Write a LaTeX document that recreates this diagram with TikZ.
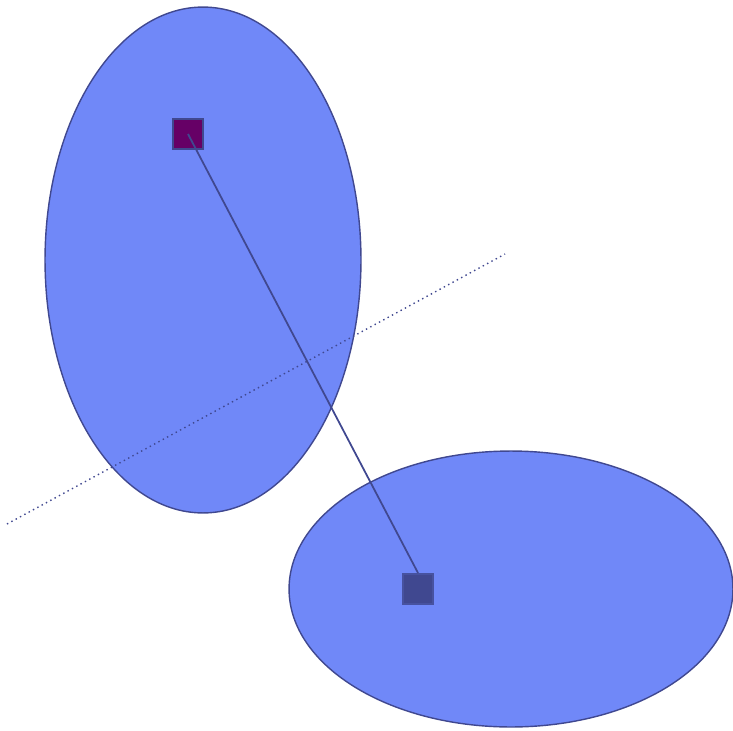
\documentclass[tikz,border=0pt]{standalone}
\usepackage{tikz}
\usetikzlibrary{shapes.geometric}
\definecolor{regionfill}{HTML}{7088F8}
\definecolor{regionedge}{HTML}{404890}
\definecolor{plum}{HTML}{660066}

\begin{document}
\begin{tikzpicture}[
x=0.02cm, y=-0.02cm,
region/.style={draw=regionedge, thick, fill=regionfill, ellipse, inner sep=0pt},
point/.style={draw=regionedge, line width=1.2pt, minimum size=0.6cm, inner sep=0pt},
link/.style={draw=regionedge, line width=1pt}
]
\useasboundingbox (0,0) rectangle (733,730);
\node[region, minimum width=6.32cm, minimum height=10.12cm] (upper) at (203,260) {};
\node[region, minimum width=8.88cm, minimum height=5.52cm] (lower) at (511,589) {};

\coordinate (cutA) at (7,524);
\coordinate (cutB) at (505,254);
\draw[regionedge, dotted, thick] (cutA) -- (cutB);

\node[point, fill=plum] (src) at (188,134) {};
\node[point, fill=regionedge, draw=regionedge!85!regionfill] (dst) at (418,589) {};
\draw[link] (src.center) -- (dst.north);
\end{tikzpicture}
\end{document}
